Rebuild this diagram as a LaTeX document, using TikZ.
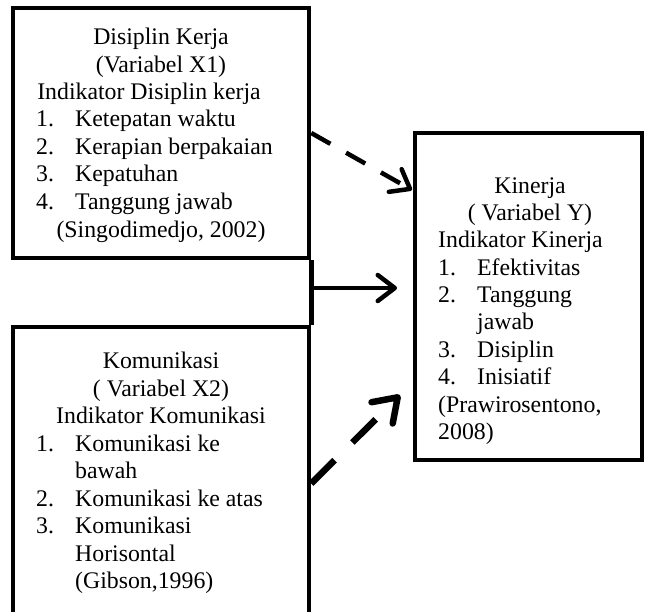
\documentclass[tikz,border=0pt]{standalone}
\usepackage{fontspec}
\setmainfont{Liberation Serif}
\usetikzlibrary{arrows.meta}
\begin{document}
\begin{tikzpicture}[x=1pt,y=-1pt,
  box/.style={draw=black,line width=4.5pt,inner sep=0pt,rectangle},
  txt/.style={inner sep=0pt,font=\fontsize{23.8}{27.5}\selectfont},
  ctr/.style={txt,anchor=base},
  lft/.style={txt,anchor=base west},
  arr/.style={line width=4.5pt,-{Straight Barb[length=17pt,width=26pt,line cap=round,line join=round]}},
  darr/.style={arr,dash pattern=on 22pt off 18pt},
  dbarr/.style={line width=6.5pt,dash pattern=on 33pt off 25pt,-{Straight Barb[length=22pt,width=30pt,line cap=round,line join=round]}}
]
\useasboundingbox (0,0) rectangle (650,611);
% boxes
\node[box,minimum width=296pt,minimum height=250pt] (top) at (161,133) {};
\node[box,minimum width=296pt,minimum height=313pt] (bot) at (161,483.5) {};
\node[box,minimum width=227pt,minimum height=327pt] (kin) at (528.5,296.5) {};
% joint line
\draw[line width=4.5pt] (top.south east) -- (bot.north east);
\coordinate (j) at (309,288);
\coordinate (t1) at (412,190);
\coordinate (t2) at (397,288);
\coordinate (t3) at (400,395);
% arrows
\draw[darr] (top.east) -- (t1);
\draw[arr] (j) -- (t2);
\draw[dbarr] (bot.east) -- (t3);
% top box text
\node[ctr] (a1) at (161,44) {Disiplin Kerja};
\node[ctr] (a2) at (161,72) {(Variabel X1)};
\node[ctr] (a3) at (149,99) {Indikator Disiplin kerja};
\node[lft] (a4n) at (36,126) {1.};
\node[lft] (a4) at (75,126) {Ketepatan waktu};
\node[lft] (a5n) at (36,154) {2.};
\node[lft] (a5) at (75,154) {Kerapian berpakaian};
\node[lft] (a6n) at (36,181) {3.};
\node[lft] (a6) at (75,181) {Kepatuhan};
\node[lft] (a7n) at (36,209) {4.};
\node[lft] (a7) at (75,209) {Tanggung jawab};
\node[ctr] (a8) at (161,237) {(Singodimedjo, 2002)};
% right box text
\node[ctr] (k1) at (530,193) {Kinerja};
\node[ctr] (k2) at (530,220) {( Variabel Y)};
\node[lft] (k3) at (438,247) {Indikator Kinerja};
\node[lft] (k4n) at (438,275) {1.};
\node[lft] (k4) at (477,275) {Efektivitas};
\node[lft] (k5n) at (438,302) {2.};
\node[lft] (k5) at (477,302) {Tanggung};
\node[lft] (k5b) at (477,329) {jawab};
\node[lft] (k6n) at (438,357) {3.};
\node[lft] (k6) at (477,357) {Disiplin};
\node[lft] (k7n) at (438,384) {4.};
\node[lft] (k7) at (477,384) {Inisiatif};
\node[lft] (k8) at (438,412) {(Prawirosentono,};
\node[lft] (k9) at (438,439) {2008)};
% bottom box text
\node[ctr] (b1) at (161,368) {Komunikasi};
\node[ctr] (b2) at (161,396) {( Variabel X2)};
\node[ctr] (b3) at (161,423) {Indikator Komunikasi};
\node[lft] (b4n) at (36,451) {1.};
\node[lft] (b4) at (75,451) {Komunikasi ke};
\node[lft] (b4b) at (75,478) {bawah};
\node[lft] (b5n) at (36,506) {2.};
\node[lft] (b5) at (75,506) {Komunikasi ke atas};
\node[lft] (b6n) at (36,533) {3.};
\node[lft] (b6) at (75,533) {Komunikasi};
\node[lft] (b6b) at (75,561) {Horisontal};
\node[lft] (b7) at (75,588) {(Gibson,1996)};
\end{tikzpicture}
\end{document}
